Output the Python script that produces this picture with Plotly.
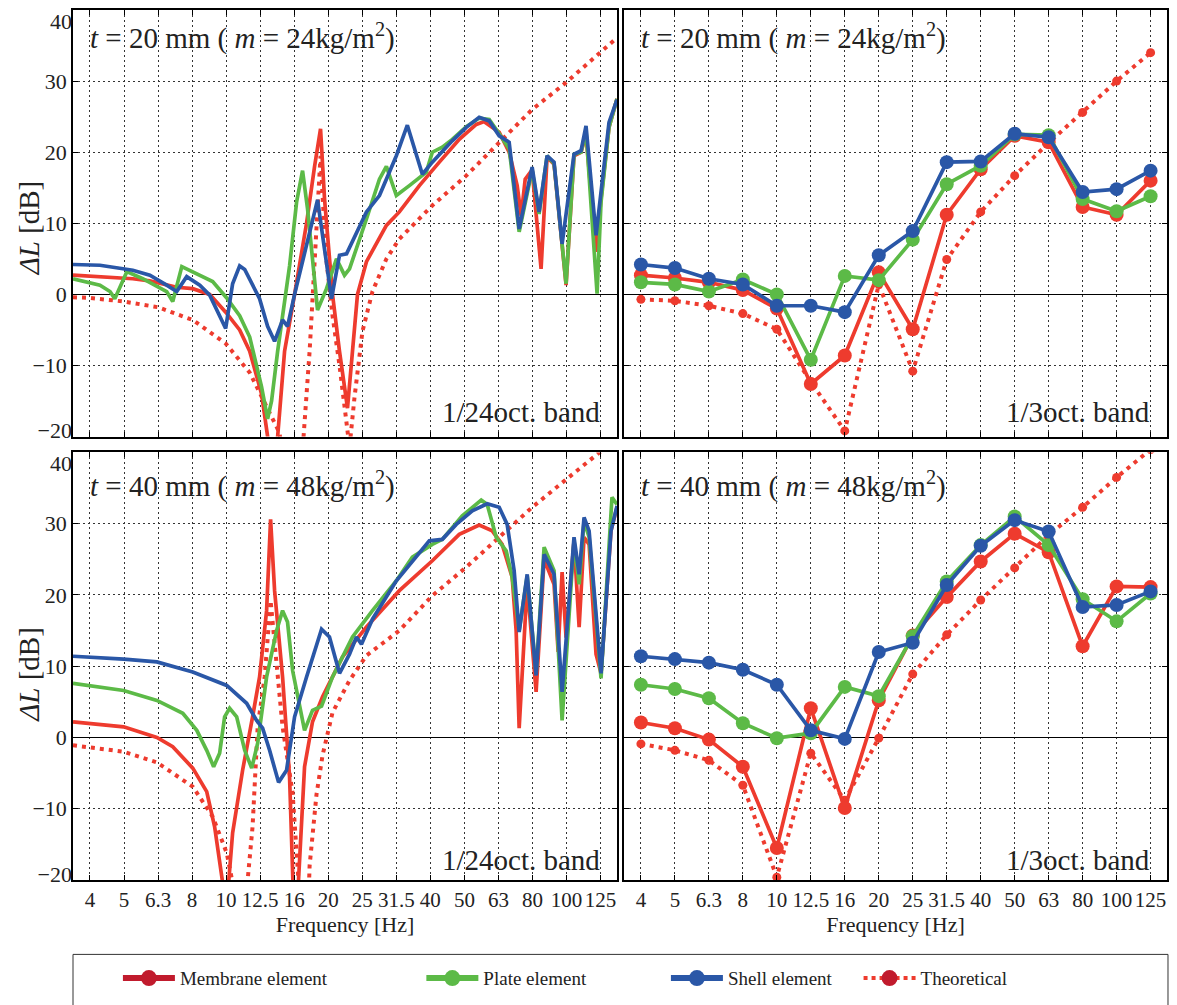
import plotly.graph_objects as go

# ---------------- axis ticks ----------------
TICK_FREQ = [3.981, 5.012, 6.310, 7.943, 10.0, 12.589, 15.849, 19.953, 25.119,
             31.623, 39.811, 50.119, 63.096, 79.433, 100.0, 125.893]
TICK_TEXT = ["4", "5", "6.3", "8", "10", "12.5", "16", "20", "25", "31.5",
             "40", "50", "63", "80", "100", "125"]
Y_TICKS = [-20, -10, 0, 10, 20, 30, 40]
Y_TEXT = ["−20", "−10", "0", "10", "20", "30", "40"]

# ---------------- 1/24 octave band, t = 20 mm ----------------
F20_MEM = [3.55, 4.26, 5.32, 5.97, 7.16, 7.98, 8.95, 9.97, 10.96, 11.73, 12.71, 13.24, 13.60,
           14.17, 14.85, 15.89, 17.23, 18.19, 18.94, 19.46, 20.54, 21.53, 22.73, 23.51, 24.32,
           25.84, 29.57, 32.28, 36.96, 42.30, 48.41, 54.30, 57.31, 63.41, 67.84, 71.62, 73.58,
           75.61, 79.25, 84.19, 87.68, 91.91, 99.70, 105.2, 110.3, 114.1, 122.1, 126.3, 133.3, 140.7]
L20_MEM = [2.7, 2.5, 2.2, 1.9, 1.0, 0.8, 0.0, -2.5, -5.0, -8.0, -14.0, -20.0, -27.0,
           -20.0, -8.0, 0.0, 10.0, 18.0, 23.3, 13.4, 0.0, -8.0, -16.0, -8.0, 0.0,
           4.6, 9.7, 11.6, 15.3, 18.6, 21.8, 23.9, 24.3, 22.8, 20.0, 15.3, 11.0,
           16.2, 17.5, 3.6, 19.3, 18.3, 1.3, 19.5, 20.0, 22.5, 6.0, 13.5, 23.5, 27.5]

F20_PLATE = [3.55, 4.26, 4.56, 4.71, 5.11, 5.69, 6.69, 6.97, 7.41, 8.37, 9.13, 10.04, 10.96,
             11.73, 12.71, 13.24, 13.60, 14.17, 14.85, 15.36, 16.11, 16.77, 17.35, 18.19, 18.56,
             19.72, 21.10, 22.27, 23.04, 25.84, 28.21, 29.57, 31.63, 34.54, 38.74, 40.34, 43.16,
             46.17, 50.75, 55.40, 59.28, 63.41, 67.84, 72.59, 79.25, 83.06, 87.68, 91.91, 99.70,
             105.2, 110.3, 114.1, 122.95, 126.3, 133.3, 140.7]
L20_PLATE = [2.2, 1.3, 0.4, -0.6, 3.2, 2.2, 0.4, -1.0, 3.9, 2.7, 1.8, -0.5, -3.0,
             -6.0, -13.0, -17.5, -15.0, -8.0, -1.0, 4.0, 13.0, 17.4, 12.0, 2.0, -2.2,
             0.8, 5.0, 2.7, 3.6, 10.6, 16.2, 18.0, 13.9, 15.3, 17.2, 20.0, 20.7,
             21.8, 23.6, 24.8, 24.6, 22.6, 20.5, 8.8, 17.5, 11.3, 19.5, 18.4, 1.5,
             19.7, 20.0, 23.0, 0.1, 13.0, 23.5, 27.5]

F20_SHELL = [3.55, 4.26, 5.32, 5.97, 6.69, 7.16, 7.66, 8.37, 8.95, 9.97, 10.45, 10.96, 11.34,
             12.54, 13.24, 13.88, 14.65, 15.15, 15.89, 17.23, 18.56, 20.40, 21.53, 22.58, 25.84,
             28.21, 31.63, 34.07, 36.22, 37.71, 40.34, 46.17, 50.75, 55.40, 59.28, 63.41, 67.84,
             72.59, 79.25, 83.06, 87.68, 91.91, 97.05, 105.2, 110.3, 114.1, 122.1, 126.3, 133.3, 140.7]
L20_SHELL = [4.2, 4.1, 3.4, 2.7, 1.3, 0.4, 2.5, 1.3, -0.1, -4.8, 1.5, 4.0, 3.5,
             -0.6, -4.5, -6.6, -3.6, -4.5, 0.0, 7.0, 13.3, -0.6, 5.5, 5.7, 11.6,
             13.9, 19.5, 23.8, 19.5, 16.9, 18.6, 21.6, 23.5, 24.9, 24.4, 22.3, 21.4,
             9.2, 17.9, 11.6, 19.5, 18.6, 7.1, 19.7, 20.2, 23.7, 8.3, 14.4, 24.2, 27.4]

F20_THEO = [3.55, 3.98, 5.0, 6.30, 7.98, 9.97, 11.73, 13.42, 14.36, 15.57, 16.77, 17.59, 18.31,
            18.94, 19.59, 20.54, 21.53, 22.27, 23.04, 23.83, 25.15, 26.91, 29.57, 32.28, 40.34,
            50.75, 63.41, 79.25, 99.70, 124.6, 140.7]
L20_THEO = [-0.4, -0.5, -1.0, -1.8, -3.6, -6.9, -11.0, -16.6, -19.5, -35.0, -22.0, -8.0, 6.0,
            19.5, 6.0, -3.0, -10.0, -16.0, -21.5, -14.5, -5.2, 0.4, 5.0, 7.8, 12.5,
            16.7, 21.4, 26.0, 29.8, 34.0, 36.1]

# ---------------- 1/24 octave band, t = 40 mm ----------------
F40_MEM = [3.55, 5.0, 6.26, 6.97, 7.98, 8.77, 9.25, 9.57, 9.77, 9.97, 10.17, 10.45, 11.18,
           11.96, 12.54, 13.15, 13.51, 13.88, 14.65, 15.36, 15.78, 16.00, 16.32, 17.00, 17.94,
           19.20, 21.97, 25.84, 32.28, 40.34, 48.41, 55.40, 60.49, 64.71, 69.23, 71.12, 72.59,
           76.64, 81.41, 85.93, 91.91, 94.48, 97.05, 99.70, 105.2, 108.9, 112.6, 116.5, 122.1,
           126.3, 135.1, 140.7]
L40_MEM = [2.2, 1.5, 0.0, -1.3, -4.3, -7.6, -12.5, -17.2, -20.4, -32.0, -20.4, -13.4, -4.6,
           2.9, 8.5, 17.8, 30.6, 20.6, 8.5, -5.5, -20.0, -32.0, -20.0, -4.1, 2.2,
           5.7, 11.3, 15.5, 20.6, 24.8, 28.5, 29.8, 29.0, 27.1, 22.5, 15.0, 1.3,
           21.5, 6.4, 25.0, 21.5, 12.0, 23.2, 14.0, 27.6, 15.5, 28.1, 27.1, 11.7,
           9.0, 29.0, 32.3]

F40_PLATE = [3.55, 5.0, 6.26, 7.46, 8.20, 8.77, 9.19, 9.57, 9.90, 10.24, 10.74, 11.34, 11.89,
             12.38, 13.15, 14.07, 14.65, 15.15, 15.68, 16.43, 17.00, 17.94, 19.07, 20.54, 23.51,
             26.91, 31.63, 35.25, 40.34, 43.16, 49.39, 56.16, 58.48, 62.15, 66.48, 69.23, 72.59,
             76.64, 81.41, 85.93, 91.91, 97.05, 105.2, 108.9, 112.6, 116.5, 126.3, 136.0, 140.7]
L40_PLATE = [7.6, 6.6, 5.2, 3.4, 1.0, -1.8, -4.1, -2.2, 2.9, 4.1, 2.9, -1.8, -4.3,
             -0.8, 8.5, 15.0, 17.8, 16.2, 9.4, 4.8, 1.0, 3.8, 4.4, 8.5, 14.1,
             17.8, 22.0, 25.3, 27.1, 27.8, 31.1, 33.3, 32.7, 28.1, 26.2, 22.5, 15.0,
             22.7, 9.0, 26.7, 23.4, 2.4, 27.6, 21.5, 30.4, 28.1, 8.3, 33.7, 32.7]

F40_SHELL = [3.55, 5.0, 6.26, 7.98, 10.04, 11.49, 12.29, 12.80, 13.42, 14.26, 15.05, 15.89, 17.23,
             19.07, 20.12, 21.53, 23.04, 24.15, 24.98, 26.91, 31.63, 36.22, 39.53, 43.16, 47.43,
             52.86, 58.48, 63.41, 66.93, 70.17, 72.59, 76.64, 81.41, 85.93, 91.91, 97.05, 105.2,
             108.9, 112.6, 116.5, 126.3, 135.1, 140.7]
L40_SHELL = [11.4, 11.0, 10.6, 9.2, 7.3, 4.8, 2.4, 1.3, -1.8, -6.3, -4.6, 2.9, 8.5,
             15.2, 14.1, 9.0, 11.7, 14.1, 13.1, 16.6, 22.0, 25.5, 27.6, 27.8, 29.9,
             31.8, 32.8, 32.3, 29.9, 23.4, 14.8, 22.9, 8.7, 25.7, 22.9, 6.4, 28.1,
             22.9, 30.9, 29.0, 9.0, 29.0, 32.5]

F40_THEO = [3.55, 5.0, 6.26, 7.98, 9.13, 10.04, 10.45, 10.96, 11.57, 11.96, 12.38, 12.98, 13.51,
            14.07, 14.65, 15.68, 16.21, 16.66, 17.12, 17.59, 18.43, 19.20, 20.54, 23.04, 25.84,
            32.28, 40.34, 50.75, 63.41, 79.25, 99.70, 124.6, 140.7]
L40_THEO = [-1.1, -2.0, -3.5, -6.9, -11.1, -16.2, -20.4, -35.0, -20.0, -12.5, 1.5, 8.5, 19.2,
            10.8, 1.5, -7.8, -16.7, -22.0, -35.0, -18.0, -8.0, -2.5, 3.5, 8.0, 11.5,
            15.0, 19.9, 23.9, 28.1, 32.3, 36.2, 40.0, 42.0]

# ---------------- 1/3 octave band ----------------
F13 = [3.981, 5.012, 6.310, 7.943, 10.0, 12.589, 15.849, 19.953, 25.119,
       31.623, 39.811, 50.119, 63.096, 79.433, 100.0, 125.893]
T20_MEM = [2.7, 2.3, 1.7, 0.6, -2.0, -12.6, -8.6, 3.1, -4.9, 11.2, 17.6, 22.3, 21.4, 12.3, 11.2, 16.0]
T20_PLATE = [1.7, 1.4, 0.4, 2.1, 0.0, -9.2, 2.6, 2.0, 7.7, 15.5, 18.1, 22.5, 22.4, 13.4, 11.7, 13.8]
T20_SHELL = [4.2, 3.7, 2.2, 1.4, -1.6, -1.6, -2.5, 5.5, 8.9, 18.6, 18.7, 22.6, 22.1, 14.4, 14.8, 17.4]
T20_THEO = [-0.7, -0.9, -1.6, -2.7, -4.9, -12.3, -19.2, 1.4, -10.8, 4.9, 11.6, 16.7, 21.3, 25.6, 30.0, 34.0]

T40_MEM = [2.1, 1.3, -0.3, -4.1, -15.5, 4.1, -9.9, 5.2, 14.3, 19.7, 24.7, 28.6, 26.0, 12.8, 21.2, 21.1]
T40_PLATE = [7.4, 6.8, 5.5, 2.0, -0.1, 0.6, 7.1, 5.8, 14.2, 21.9, 27.0, 31.0, 27.0, 19.4, 16.3, 20.2]
T40_SHELL = [11.4, 11.0, 10.5, 9.5, 7.4, 1.0, -0.2, 12.0, 13.3, 21.4, 26.9, 30.5, 28.9, 18.3, 18.6, 20.5]
T40_THEO = [-0.9, -1.8, -3.2, -6.7, -19.6, -2.2, -8.8, -0.1, 8.9, 14.4, 19.3, 23.8, 28.4, 32.3, 36.5, 40.4]

SERIES_NAMES = ["Membrane element", "Plate element", "Shell element", "Theoretical"]

# ---------------- styles ----------------
RED = "#EE3B2E"
GREEN = "#5CBA47"
BLUE = "#2A57A7"
LEG_RED = "#C11B2D"
FONT = "Liberation Serif"
TXT = "#222222"

W, H = 1177, 1005
ML, MR, MT, MB = 73, 8, 10, 118
PW, PH = W - ML - MR, H - MT - MB
YR = [-20, 40]


def px_x(px):
    return (px - ML) / PW


def px_y(py):
    return (H - MB - py) / PH


fig = go.Figure()


def add_band24(xa, ya, f_mem, l_mem, f_pl, l_pl, f_sh, l_sh, f_th, l_th):
    fig.add_trace(go.Scatter(x=f_th, y=l_th, mode="lines", xaxis=xa, yaxis=ya, showlegend=False,
                             line=dict(color=RED, width=4, dash="4px,5px")))
    fig.add_trace(go.Scatter(x=f_mem, y=l_mem, mode="lines", xaxis=xa, yaxis=ya, showlegend=False,
                             line=dict(color=RED, width=3.7)))
    fig.add_trace(go.Scatter(x=f_pl, y=l_pl, mode="lines", xaxis=xa, yaxis=ya, showlegend=False,
                             line=dict(color=GREEN, width=3.7)))
    fig.add_trace(go.Scatter(x=f_sh, y=l_sh, mode="lines", xaxis=xa, yaxis=ya, showlegend=False,
                             line=dict(color=BLUE, width=3.7)))


def add_band3(xa, ya, mem, pl, sh, th):
    fig.add_trace(go.Scatter(x=F13, y=th, mode="lines+markers", xaxis=xa, yaxis=ya, showlegend=False,
                             line=dict(color=RED, width=4, dash="4px,5px"),
                             marker=dict(color=RED, size=9)))
    for vals, col in ((mem, RED), (pl, GREEN), (sh, BLUE)):
        fig.add_trace(go.Scatter(x=F13, y=vals, mode="lines+markers", xaxis=xa, yaxis=ya,
                                 showlegend=False, line=dict(color=col, width=3.7),
                                 marker=dict(color=col, size=14)))


add_band24("x", "y", F20_MEM, L20_MEM, F20_PLATE, L20_PLATE, F20_SHELL, L20_SHELL, F20_THEO, L20_THEO)
add_band3("x2", "y2", T20_MEM, T20_PLATE, T20_SHELL, T20_THEO)
add_band24("x3", "y3", F40_MEM, L40_MEM, F40_PLATE, L40_PLATE, F40_SHELL, L40_SHELL, F40_THEO, L40_THEO)
add_band3("x4", "y4", T40_MEM, T40_PLATE, T40_SHELL, T40_THEO)

# legend entries (one legend per entry so each can be placed like the original)
leg_styles = [
    dict(line=dict(color=LEG_RED, width=6), marker=dict(color=LEG_RED, size=16)),
    dict(line=dict(color=GREEN, width=6), marker=dict(color=GREEN, size=16)),
    dict(line=dict(color=BLUE, width=6), marker=dict(color=BLUE, size=16)),
    dict(line=dict(color=RED, width=4, dash="4px,4px"), marker=dict(color=LEG_RED, size=16)),
]
leg_ids = ["legend", "legend2", "legend3", "legend4"]
for name, st, lid in zip(SERIES_NAMES, leg_styles, leg_ids):
    fig.add_trace(go.Scatter(x=[None], y=[None], mode="lines+markers", name=name, legend=lid,
                             xaxis="x", yaxis="y", showlegend=True, **st))

leg_marker_px = [143, 447, 692, 885]
for lid, mx in zip(leg_ids, leg_marker_px):
    fig.update_layout({lid: dict(orientation="h", x=px_x(mx - 25), xanchor="left",
                                 y=px_y(986), yanchor="middle", bgcolor="rgba(0,0,0,0)",
                                 borderwidth=0, itemwidth=52,
                                 font=dict(family=FONT, size=19, color=TXT))})

# axes
XR = [0.5502, 2.1483]
dom_x = [[0, px_x(618)], [px_x(625), 1.0]]
dom_y = [[px_y(440), 1.0], [0, px_y(456)]]

common_x = dict(type="log", range=XR, tickvals=TICK_FREQ, ticktext=TICK_TEXT,
                ticks="inside", ticklen=5, tickcolor="black", showline=True, linecolor="black",
                linewidth=1.5, mirror="ticks", showgrid=True, gridcolor="#333",
                griddash="2px,3px", gridwidth=1,
                tickfont=dict(family=FONT, size=21, color=TXT))
# the end labels (−20, 40) are drawn by a label-only overlay axis, nudged inward as in the original
inner_text = ["" if v in (YR[0], YR[1]) else t for v, t in zip(Y_TICKS, Y_TEXT)]
common_y = dict(range=YR, tickvals=Y_TICKS, ticktext=inner_text, ticks="inside", ticklen=5,
                tickcolor="black", showline=True, linecolor="black", linewidth=1.5,
                mirror="ticks", showgrid=True, gridcolor="#333", griddash="2px,3px", gridwidth=1,
                zeroline=True, zerolinecolor="black", zerolinewidth=1.3,
                tickfont=dict(family=FONT, size=22, color=TXT))
dB_per_px = (YR[1] - YR[0]) / 430.0
end_vals = [YR[0] + 6 * dB_per_px, YR[1] - 11 * dB_per_px]
end_text = [Y_TEXT[0], Y_TEXT[-1]]
label_y = dict(range=YR, tickvals=end_vals, ticktext=end_text, ticks="", showgrid=False,
               zeroline=False, showline=False, side="left",
               tickfont=dict(family=FONT, size=22, color=TXT))

xtitle = dict(text="Frequency [Hz]", font=dict(family=FONT, size=22, color=TXT), standoff=2)

fig.update_layout(
    xaxis=dict(common_x, domain=dom_x[0], anchor="y", showticklabels=False),
    xaxis2=dict(common_x, domain=dom_x[1], anchor="y2", showticklabels=False),
    xaxis3=dict(common_x, domain=dom_x[0], anchor="y3", title=xtitle),
    xaxis4=dict(common_x, domain=dom_x[1], anchor="y4", title=xtitle),
    yaxis=dict(common_y, domain=dom_y[0], anchor="x"),
    yaxis2=dict(common_y, domain=dom_y[0], anchor="x2", showticklabels=False),
    yaxis3=dict(common_y, domain=dom_y[1], anchor="x3"),
    yaxis4=dict(common_y, domain=dom_y[1], anchor="x4", showticklabels=False),
    yaxis5=dict(label_y, overlaying="y", anchor="x"),
    yaxis6=dict(label_y, overlaying="y3", anchor="x3"),
)
fig.add_trace(go.Scatter(x=[None], y=[None], xaxis="x", yaxis="y5", showlegend=False))
fig.add_trace(go.Scatter(x=[None], y=[None], xaxis="x3", yaxis="y6", showlegend=False))

# y-axis titles
for py in (230, 680):
    fig.add_annotation(x=px_x(29), y=px_y(py), xref="paper", yref="paper",
                       text="<i>ΔL</i> [dB]", textangle=-90, showarrow=False,
                       xanchor="center", yanchor="middle",
                       font=dict(family=FONT, size=29, color=TXT))

# panel labels
labels = [
    ("x", "y", "<i>t</i> = 20 mm ( <i>m</i> = 24kg/m<sup>2</sup>)", "1/24oct. band", 0.938, 0.058),
    ("x2", "y2", "<i>t</i> = 20 mm ( <i>m</i> = 24kg/m<sup>2</sup>)", "1/3oct. band", 0.938, 0.058),
    ("x3", "y3", "<i>t</i> = 40 mm ( <i>m</i> = 48kg/m<sup>2</sup>)", "1/24oct. band", 0.924, 0.046),
    ("x4", "y4", "<i>t</i> = 40 mm ( <i>m</i> = 48kg/m<sup>2</sup>)", "1/3oct. band", 0.924, 0.046),
]
for xa, ya, title, band, ty, by in labels:
    fig.add_annotation(x=0.028, y=ty, xref=xa + " domain", yref=ya + " domain",
                       text=title, showarrow=False, xanchor="left", yanchor="middle",
                       font=dict(family=FONT, size=29, color=TXT))
    fig.add_annotation(x=0.972, y=by, xref=xa + " domain", yref=ya + " domain",
                       text=band, showarrow=False, xanchor="right", yanchor="middle",
                       font=dict(family=FONT, size=29, color=TXT))

# legend frame
fig.add_shape(type="rect", xref="paper", yref="paper", x0=px_x(73), x1=px_x(1170),
              y0=px_y(962), y1=px_y(1030), line=dict(color="#333", width=1), layer="below")

fig.update_layout(width=W, height=H, autosize=False,
                  margin=dict(l=ML, r=MR, t=MT, b=MB),
                  paper_bgcolor="white", plot_bgcolor="white",
                  font=dict(family=FONT, color=TXT))

fig.write_html("out.html")
